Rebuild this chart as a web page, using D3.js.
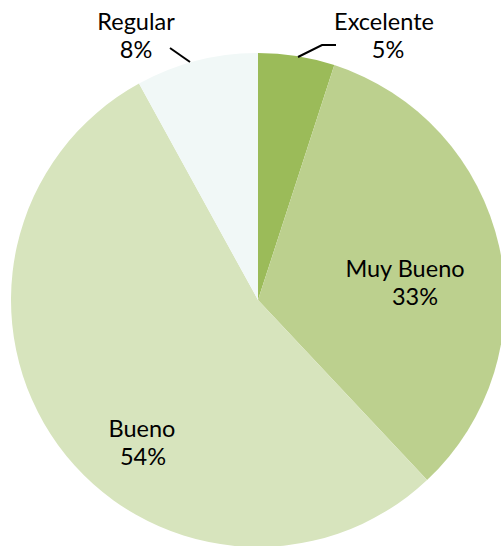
<!DOCTYPE html>
<html><head><meta charset="utf-8">
<script src="https://cdn.jsdelivr.net/npm/d3@7"></script>
<style>html,body{margin:0;padding:0;background:#fff;overflow:hidden}</style>
</head><body>
<script>
const categories = ["Excelente", "Muy Bueno", "Bueno", "Regular"];
const values = [5, 33, 54, 8];
const labels = ["5%", "33%", "54%", "8%"];
const colors = ["#9BBB59", "#BCD08E", "#D7E4BD", "#F1F8F7"];

const W = 501, H = 546;
const cx = 258, cy = 300, R = 247;
const svg = d3.select("body").append("svg").attr("width", W).attr("height", H);
const g = svg.append("g").attr("transform", `translate(${cx},${cy})`);

const pie = d3.pie().sort(null).value(d => d)(values);
const arc = d3.arc().innerRadius(0).outerRadius(R);
g.selectAll("path").data(pie).join("path")
  .attr("d", arc).attr("fill", (d, i) => colors[i]);

// label positions (relative to pie center)
const labelPos = [
  {x: 126, y: -270}, // Excelente
  {x: 147, y: -23},  // Muy Bueno
  {x: -116, y: 137}, // Bueno
  {x: -122, y: -270} // Regular
];
const pctDx = [4, 10, 1, 0];
const font = "Lato, sans-serif";
categories.forEach((c, i) => {
  g.append("text").attr("text-anchor", "middle")
    .attr("font-family", font).attr("font-size", 23.5).attr("fill", "#000")
    .attr("x", labelPos[i].x).attr("y", labelPos[i].y).text(c);
  g.append("text").attr("text-anchor", "middle")
    .attr("font-family", font).attr("font-size", 23.5).attr("fill", "#000")
    .attr("x", labelPos[i].x + pctDx[i]).attr("y", labelPos[i].y + 28).text(labels[i]);
});

// leader lines
const leaders = [
  [[40, -243], [64, -255], [78, -255]],
  [[-88, -252], [-68, -238]]
];
leaders.forEach(p => {
  g.append("path").attr("d", d3.line()(p)).attr("fill", "none")
    .attr("stroke", "#000").attr("stroke-width", 2);
});
</script>
</body></html>
